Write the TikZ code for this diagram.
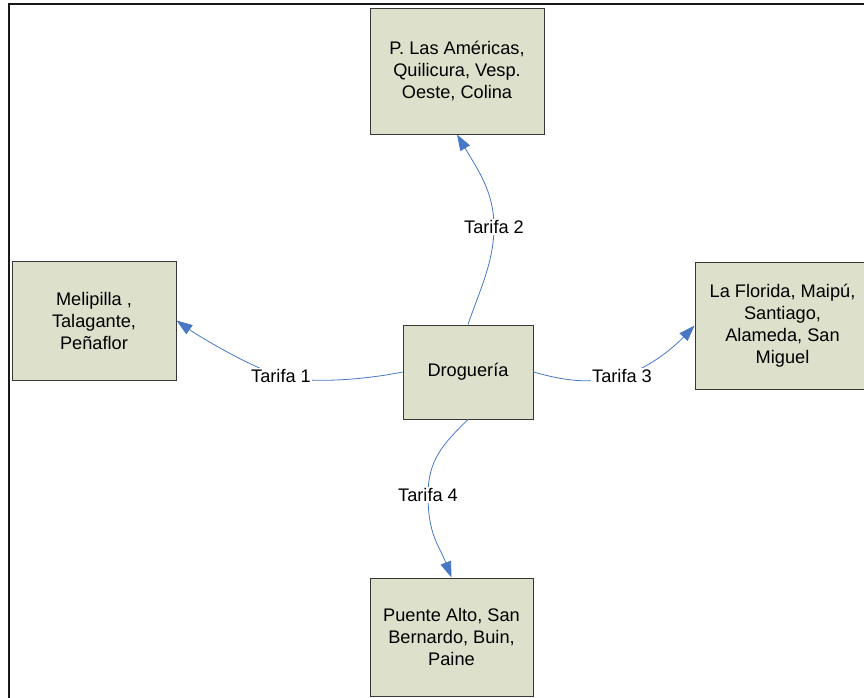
\documentclass[tikz,border=0pt]{standalone}
\usepackage{fontspec}
\setmainfont{Liberation Sans}
\usetikzlibrary{arrows.meta}
\definecolor{boxfill}{RGB}{221,224,203}
\definecolor{boxline}{RGB}{55,55,55}
\definecolor{linkblue}{RGB}{72,120,196}
\begin{document}
\begin{tikzpicture}[x=1pt,y=-1pt,
  area/.style={draw=boxline, line width=0.9pt, fill=boxfill, align=center,
    inner sep=0pt, font=\fontsize{18.2}{22}\selectfont},
  link/.style={draw=linkblue, line width=0.8pt,
    -{Triangle[length=16pt,width=11pt]}},
  lbl/.style={fill=white, inner sep=1.5pt, font=\fontsize{18.2}{22}\selectfont},
  frameline/.style={draw=black!90, line width=2pt}]
\useasboundingbox (0,0) rectangle (864,698);

% outer frame (left and top edges)
\draw[frameline] (8.6,702) -- (8.6,3.8) -- (870,3.8);

% boxes
\node[area, minimum width=174pt, minimum height=126pt] (dest2) at (457,71)
  {P. Las Américas,\\Quilicura, Vesp.\\Oeste, Colina};
\node[area, minimum width=164pt, minimum height=119pt] (dest1) at (94,320.5)
  {Melipilla ,\\Talagante,\\Peñaflor};
\node[area, minimum width=130pt, minimum height=94pt] (drog) at (468,372)
  {Droguería};
\node[area, minimum width=175pt, minimum height=127pt] (dest3) at (782.5,325.5)
  {La Florida, Maipú,\\Santiago,\\Alameda, San\\Miguel};
\node[area, minimum width=163pt, minimum height=118pt] (dest4) at (451.5,637)
  {Puente Alto, San\\Bernardo, Buin,\\Paine};

% curved connectors with their tariff labels
\draw[link] (drog.west) .. controls (374,378) and (314,385) .. (281,376)
  node[lbl] (t1) {Tarifa 1}
  .. controls (252,368) and (200,337) .. (dest1.east);
\draw[link] (drog.north) .. controls (479,292) and (494,262) .. (494,227)
  node[lbl] (t2) {Tarifa 2}
  .. controls (494,192) and (478,170) .. (dest2.south);
\draw[link] (drog.east) .. controls (562,380) and (589,385) .. (622,376)
  node[lbl] (t3) {Tarifa 3}
  .. controls (651,368) and (677,344) .. (dest3.west);
\draw[link] (drog.south) .. controls (443,444) and (428,460) .. (428,495)
  node[lbl] (t4) {Tarifa 4}
  .. controls (428,535) and (439,545) .. (dest4.north);
\end{tikzpicture}
\end{document}
